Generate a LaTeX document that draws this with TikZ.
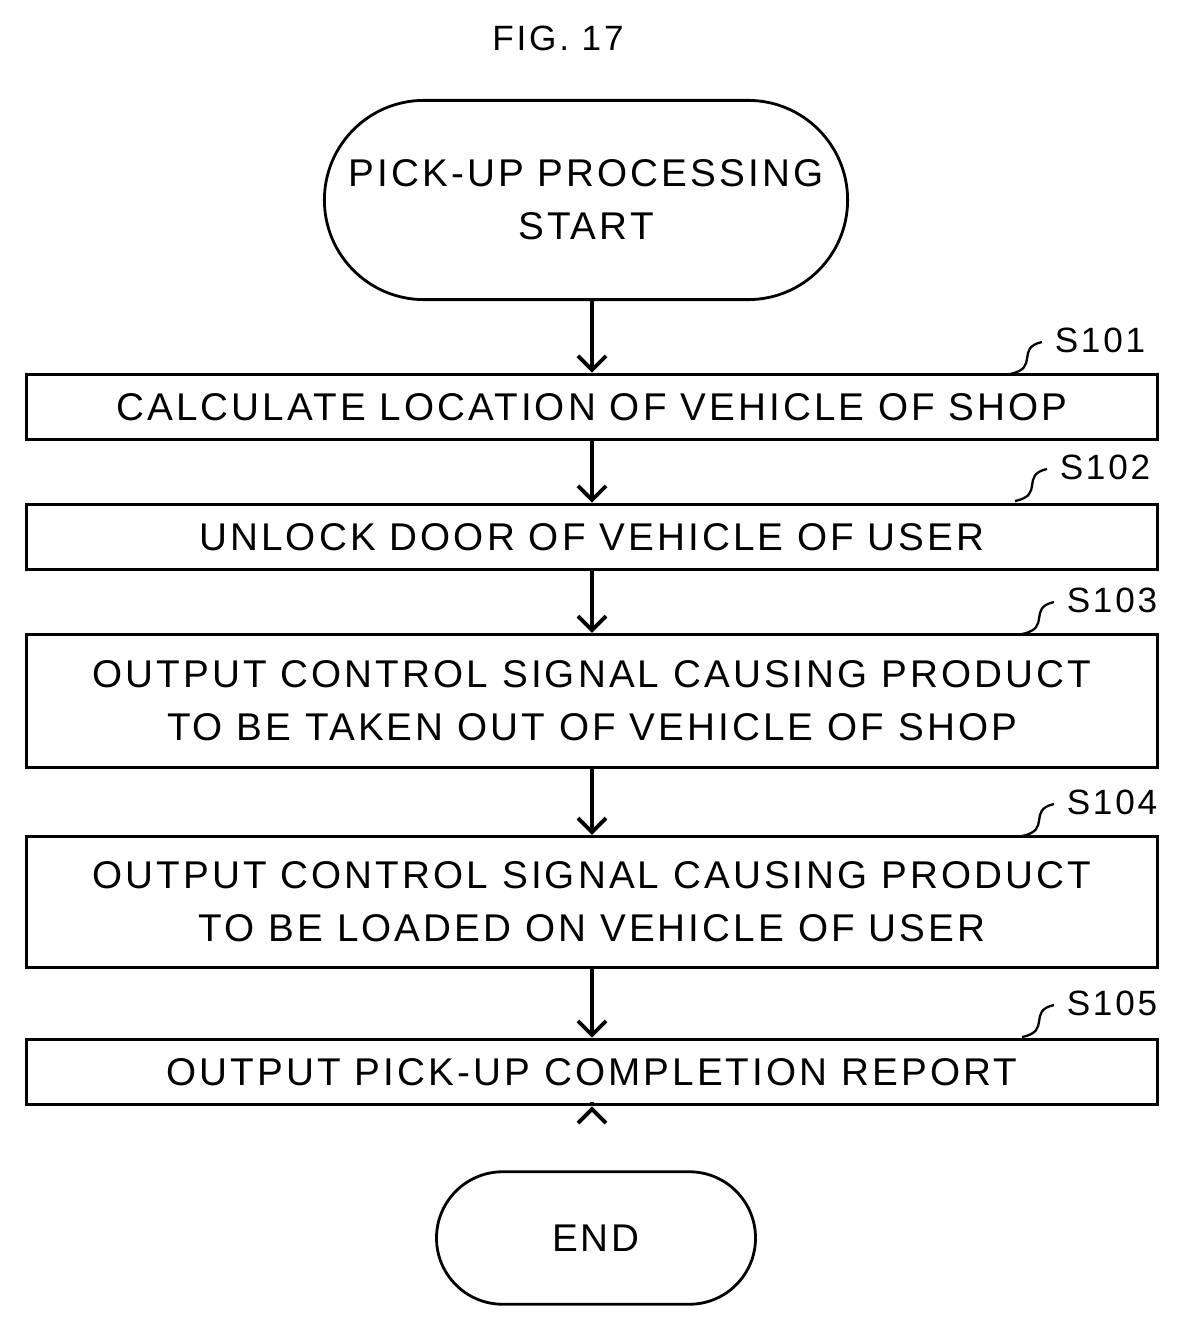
\documentclass[tikz,border=0pt]{standalone}
\usepackage{fontspec}
\setmainfont{Liberation Sans}[LetterSpace=8]
\usetikzlibrary{shapes.misc,arrows.meta}
\begin{document}
\begin{tikzpicture}[x=0.02cm, y=-0.02cm,
  procbox/.style = {draw, line width=1.6pt, minimum width=1136*0.567pt, align=center, font=\fontsize{22}{30}\selectfont},
  term/.style = {draw, line width=1.6pt, rounded rectangle, align=center, font=\fontsize{22}{30}\selectfont},
  flow/.style = {line width=2.2pt, -{Straight Barb[length=8pt,width=16pt]}},
  tag/.style = {font=\fontsize{20}{24}\selectfont}]
\useasboundingbox (0,0) rectangle (1182,1331);
\node[font=\fontsize{20}{24}\selectfont] (title) at (558,38) {FIG. 17};

\node[term, minimum width=537*0.567pt, minimum height=200*0.567pt] (start) at (586,200) {PICK-UP PROCESSING\\START};
\node[procbox, minimum height=66*0.567pt] (s1) at (592,407) {CALCULATE LOCATION OF VEHICLE OF SHOP};
\node[procbox, minimum height=66*0.567pt] (s2) at (592,537) {UNLOCK DOOR OF VEHICLE OF USER};
\node[procbox, minimum height=134*0.567pt] (s3) at (592,701) {OUTPUT CONTROL SIGNAL CAUSING PRODUCT\\TO BE TAKEN OUT OF VEHICLE OF SHOP};
\node[procbox, minimum height=132*0.567pt] (s4) at (592,902) {OUTPUT CONTROL SIGNAL CAUSING PRODUCT\\TO BE LOADED ON VEHICLE OF USER};
\node[procbox, minimum height=66*0.567pt] (s5) at (592,1072) {OUTPUT PICK-UP COMPLETION REPORT};
\node[term, minimum width=332*0.567pt, minimum height=133*0.567pt] (end) at (596,1238) {END};

\draw[flow] (start.south -| s1) -- (s1);
\draw[flow] (s1) -- (s2);
\draw[flow] (s2) -- (s3);
\draw[flow] (s3) -- (s4);
\draw[flow] (s4) -- (s5);
\draw[flow] (s5.south -| s1) -- (s5.south -| s1 |- end.north);

% step numbers
\foreach \n/\y/\x in {1/340/1100, 2/467/1105, 3/600/1112, 4/802/1112, 5/1003/1112}{
  \node[tag] (t\n) at (\x,\y) {S10\n};
  \draw[line width=1.3pt] (\x-90,\y+34) .. controls (\x-60,\y+28) and (\x-85,\y+8) .. (\x-58,\y+2);
}
\end{tikzpicture}
\end{document}
